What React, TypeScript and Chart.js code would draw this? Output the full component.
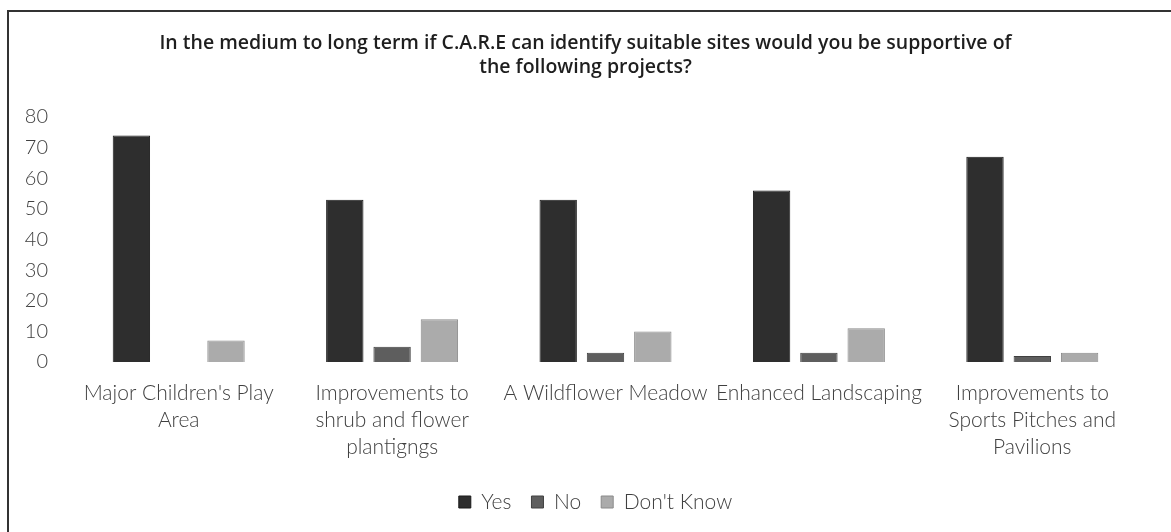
import React, { useEffect, useRef } from "react";
import { Chart, registerables } from "chart.js";

Chart.register(...registerables);

const titleLines = [
  "In the medium to long term if C.A.R.E can identify suitable sites would you be supportive of",
  "the following projects?",
];

const categories: string[][] = [
  ["Major Children's Play", "Area"],
  ["Improvements to", "shrub and flower", "plantigngs"],
  ["A Wildflower Meadow"],
  ["Enhanced Landscaping"],
  ["Improvements to", "Sports Pitches and", "Pavilions"],
];

const yesValues = [74, 53, 53, 56, 67];
const noValues = [0, 5, 3, 3, 2];
const dontKnowValues = [7, 14, 10, 11, 3];

const seriesNames = ["Yes", "No", "Don't Know"];

const yMin = 0;
const yMax = 80;
const yStep = 10;

const FONT = "Lato, 'Open Sans', sans-serif";
const TITLE_FONT = "'Open Sans', Lato, sans-serif";

const shiftBoxes = {
  id: "shiftBoxes",
  afterLayout(chart: any) {
    if (chart.legend) {
      chart.legend.left += 16;
      chart.legend.right += 16;
    }
    if (chart.titleBlock) {
      chart.titleBlock.left += 6;
      chart.titleBlock.right += 6;
    }
  },
};

export default function App() {
  const canvasRef = useRef<HTMLCanvasElement | null>(null);

  useEffect(() => {
    const canvas = canvasRef.current;
    if (!canvas) return;
    const chart = new Chart(canvas, {
      type: "bar",
      data: {
        labels: categories,
        datasets: [
          {
            label: seriesNames[0],
            data: yesValues,
            backgroundColor: "#2e2e2e",
            borderColor: "#1a1a1a",
            borderWidth: 1,
          },
          {
            label: seriesNames[1],
            data: noValues,
            backgroundColor: "#5e5e5e",
            borderColor: "#404040",
            borderWidth: 1,
          },
          {
            label: seriesNames[2],
            data: dontKnowValues,
            backgroundColor: "#ababab",
            borderColor: "#8a8a8a",
            borderWidth: 1,
          },
        ],
      },
      plugins: [shiftBoxes],
      options: {
        responsive: false,
        animation: false,
        devicePixelRatio: 1,
        datasets: {
          bar: {
            categoryPercentage: 0.665,
            barPercentage: 0.79,
          },
        },
        layout: {
          padding: { left: 20, right: 32, top: 0, bottom: 9.5 },
        },
        plugins: {
          title: {
            display: true,
            text: titleLines,
            color: "#1e1e1e",
            font: { family: TITLE_FONT, size: 19.5, weight: "600", lineHeight: 24 / 19.5 },
            padding: { top: 31, bottom: 38 },
          },
          legend: {
            display: true,
            position: "bottom",
            labels: {
              boxWidth: 12,
              boxHeight: 12,
              padding: 20,
              color: "#404040",
              font: { family: FONT, size: 21, weight: "300" },
            },
          },
          tooltip: { enabled: false },
        },
        scales: {
          x: {
            grid: { display: false, drawTicks: false },
            border: { display: false },
            ticks: {
              color: "#404040",
              padding: 17.5,
              maxRotation: 0,
              autoSkip: false,
              font: { family: FONT, size: 21, weight: "300", lineHeight: 27 / 21 },
            },
            afterFit: (scale: any) => {
              scale.height = 109.5;
            },
          },
          y: {
            min: yMin,
            max: yMax,
            grid: { display: false, drawTicks: false },
            border: { display: false },
            ticks: {
              stepSize: yStep,
              color: "#404040",
              padding: 24,
              font: { family: FONT, size: 20, weight: "300" },
            },
            afterFit: (scale: any) => {
              scale.width = 52;
            },
          },
        },
      },
    });
    return () => chart.destroy();
  }, []);

  return (
    <div
      style={{
        position: "fixed",
        left: 0,
        top: 0,
        width: 1171,
        height: 532,
        overflow: "hidden",
        background: "#fff",
      }}
    >
      <div
        style={{
          position: "absolute",
          left: 7,
          top: 10,
          width: 1300,
          height: 700,
          borderLeft: "2px solid #333",
          borderTop: "2px solid #333",
        }}
      />
      <canvas
        ref={canvasRef}
        width={1171}
        height={532}
        style={{ position: "absolute", left: 0, top: 0, width: 1171, height: 532 }}
      />
    </div>
  );
}
